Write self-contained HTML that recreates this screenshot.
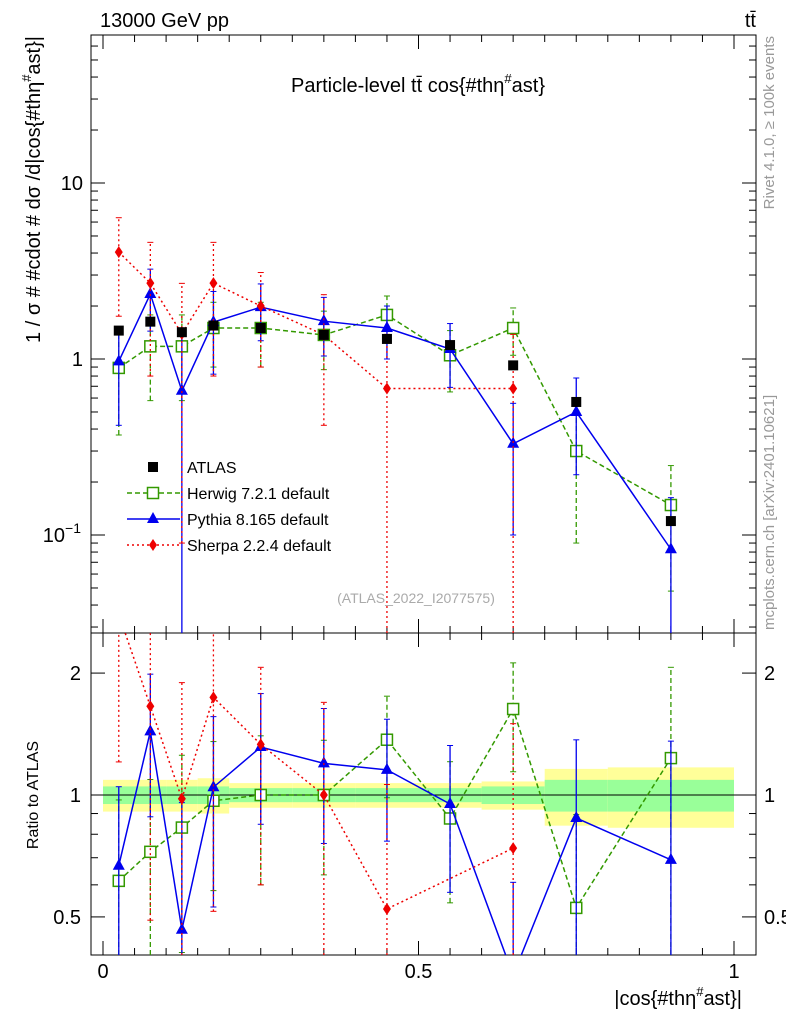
<!DOCTYPE html>
<html><head><meta charset="utf-8"><style>
body{margin:0;background:#fff;}
svg{font-family:"Liberation Sans",sans-serif;}
</style></head><body>
<svg id="c" width="786" height="1024" xmlns="http://www.w3.org/2000/svg"></svg>
<script>
const xCenters=[0.025,0.075,0.125,0.175,0.25,0.35,0.45,0.55,0.65,0.75,0.9];
const binEdges=[0,0.05,0.1,0.15,0.2,0.3,0.4,0.5,0.6,0.7,0.8,1.0];
const atlas=[1.45,1.63,1.42,1.55,1.5,1.37,1.3,1.2,0.92,0.57,0.12];
const herwig=[0.89,1.18,1.18,1.5,1.5,1.37,1.78,1.05,1.5,0.3,0.148];
const herwigErr=[0.52,0.6,0.6,0.6,0.6,0.5,0.5,0.4,0.45,0.21,0.1];
const pythia=[0.97,2.34,0.66,1.62,1.97,1.64,1.5,1.14,0.33,0.5,0.083];
const pythiaErr=[0.55,0.9,0.7,0.8,0.7,0.6,0.5,0.45,0.23,0.28,0.08];
const sherpa=[4.05,2.7,1.39,2.7,2.0,1.37,0.68,null,0.68,null,null];
const sherpaErr=[2.3,1.9,1.3,1.9,1.1,0.95,0.7,null,0.7,null,null];
const bandGreen=[0.05,0.05,0.05,0.05,0.04,0.04,0.04,0.04,0.05,0.09,0.09];
const bandYellow=[0.09,0.09,0.09,0.1,0.07,0.07,0.07,0.07,0.08,0.16,0.17];
const mainTicks=[[10,"10"],[1,"1"]];
const ratioTicks=[[2,"2"],[1,"1"],[0.5,"0.5"]];
const xTicks=[[0,"0"],[0.5,"0.5"],[1,"1"]];

const NS="http://www.w3.org/2000/svg";
const svg=document.getElementById('c');
function el(t,a,p){const e=document.createElementNS(NS,t);for(const k in a)e.setAttribute(k,a[k]);(p||svg).appendChild(e);return e;}
const L=91,R=756,T=35,M=633,B=955;
const X=v=>103+v*631;
const Y=v=>359-Math.log10(v)*176;
const YR=v=>795-Math.log10(v)*405;
const cl=(y,a,b)=>Math.max(a,Math.min(b,y));

const gb=el('g',{});
for(let i=0;i<xCenters.length;i++){
  const x0=X(binEdges[i]),x1=X(binEdges[i+1]);
  el('rect',{x:x0,y:YR(1+bandYellow[i]),width:x1-x0,height:YR(1-bandYellow[i])-YR(1+bandYellow[i]),fill:'#ffff99'},gb);
  el('rect',{x:x0,y:YR(1+bandGreen[i]),width:x1-x0,height:YR(1-bandGreen[i])-YR(1+bandGreen[i]),fill:'#99ff99'},gb);
}
el('line',{x1:L,x2:R,y1:YR(1),y2:YR(1),stroke:'#000','stroke-width':1});

const f1=el('rect',{x:L,y:T,width:R-L,height:M-T,fill:'none',stroke:'#000'});
const f2=el('rect',{x:L,y:M,width:R-L,height:B-M,fill:'none',stroke:'#000'});

for(let d=-2;d<=1;d++)for(let m=1;m<10;m++){const v=m*Math.pow(10,d);const y=Y(v);if(y<T||y>M)continue;const len=m==1?14:7;
 el('line',{x1:L,x2:L+len,y1:y,y2:y,stroke:'#000'});el('line',{x1:R,x2:R-len,y1:y,y2:y,stroke:'#000'});}
mainTicks.forEach(t=>{const e=el('text',{x:L-8,y:Y(t[0])+7,'text-anchor':'end','font-size':20});e.textContent=t[1];});
{const e=el('text',{x:L-10,y:Y(0.1)+7,'text-anchor':'end','font-size':20});e.innerHTML='10<tspan dy="-9" font-size="14">−1</tspan>';}
[0.5,0.6,0.7,0.8,0.9,1,2].forEach(v=>{const y=YR(v);const len=(v==1||v==2||v==0.5)?14:7;el('line',{x1:L,x2:L+len,y1:y,y2:y,stroke:'#000'});el('line',{x1:R,x2:R-len,y1:y,y2:y,stroke:'#000'});});
ratioTicks.forEach(t=>{const a=el('text',{x:L-10,y:YR(t[0])+7,'text-anchor':'end','font-size':20});a.textContent=t[1];
 const b=el('text',{x:R+8,y:YR(t[0])+7,'font-size':20});b.textContent=t[1];});
for(let i=0;i<=20;i++){const v=i*0.05;const x=X(v);const len=i%10==0?14:7;
 [[M,-1],[B,-1],[T,1],[M,1]].forEach(p=>el('line',{x1:x,x2:x,y1:p[0],y2:p[0]+p[1]*len,stroke:'#000'}));}
xTicks.forEach(t=>{const e=el('text',{x:X(t[0]),y:B+23,'text-anchor':'middle','font-size':20});e.textContent=t[1];});

function txt(x,y,s,name,attrs){const e=el('text',Object.assign({x:x,y:y},attrs||{}));e.innerHTML=s;return e;}
txt(100,27,'13000 GeV pp','energy-label',{'font-size':20});
txt(756,27,'tt̄','process-label',{'font-size':20,'text-anchor':'end'});
txt(418,92,'Particle-level tt̄ cos{#thη<tspan dy="-9" font-size="13">#</tspan><tspan dy="9">ast}</tspan>','plot-title',{'font-size':20,'text-anchor':'middle'});
txt(416,603,'(ATLAS_2022_I2077575)','analysis-id',{'font-size':14,'text-anchor':'middle',fill:'#aaaaaa'});
txt(742,1005,'|cos{#thη<tspan dy="-9" font-size="13">#</tspan><tspan dy="9">ast}|</tspan>','x-axis-title',{'font-size':20,'text-anchor':'end'});
txt(0,0,'1 / σ # #cdot # dσ /d|cos{#thη<tspan dy="-9" font-size="13">#</tspan><tspan dy="9">ast}|</tspan>','y-axis-title',{'font-size':20,'text-anchor':'end',transform:'translate(40,36) rotate(-90)'});
txt(0,0,'Ratio to ATLAS','ratio-y-axis-title',{'font-size':16,'text-anchor':'middle',transform:'translate(38,795) rotate(-90)'});
txt(0,0,'Rivet 4.1.0, ≥ 100k events','rivet-label',{'font-size':15,'text-anchor':'end',fill:'#999',transform:'translate(774,36) rotate(-90)'});
txt(0,0,'mcplots.cern.ch [arXiv:2401.10621]','mcplots-label',{'font-size':15,'text-anchor':'start',fill:'#999',transform:'translate(774,630) rotate(-90)'});

function marker(g,type,x,y,color){
 if(type=='sq')el('rect',{x:x-5,y:y-5,width:10,height:10,fill:'#000'},g);
 else if(type=='osq')el('rect',{x:x-5.5,y:y-5.5,width:11,height:11,fill:'#fff',stroke:color,'stroke-width':1.5},g);
 else if(type=='tri')el('path',{d:`M${x},${y-7}L${x+6},${y+4}L${x-6},${y+4}Z`,fill:color},g);
 else if(type=='dia')el('path',{d:`M${x},${y-6}L${x+4},${y}L${x},${y+6}L${x-4},${y}Z`,fill:color},g);
}
function series(name,vals,errs,color,dash,type,ymap,top,bot,ref){
 const g=el('g',{});
 const pts=[];
 vals.forEach((v,i)=>{if(v==null)return;
  const r=ref?ref[i]:1;const val=v/r;const x=X(xCenters[i]);const y=ymap(val);
  if(errs){const e=errs[i]/r;const lo=val-e;const y1=lo>0?cl(ymap(lo),top,bot):bot;const y2=cl(ymap(val+e),top,bot);
   el('line',{x1:x,x2:x,y1:y1,y2:y2,stroke:color,'stroke-width':1.3,'stroke-dasharray':dash||'none'},g);
   [y1,y2].forEach(yy=>{if(yy>top&&yy<bot)el('line',{x1:x-3,x2:x+3,y1:yy,y2:yy,stroke:color},g);});}
  pts.push([x,y]);});
 if(dash!==null){
  const cp=el('clipPath',{id:'cp'+name+top});el('rect',{x:L,y:top,width:R-L,height:bot-top},cp);
  el('polyline',{points:pts.map(p=>p.join(',')).join(' '),fill:'none',stroke:color,'stroke-width':1.5,'stroke-dasharray':dash||'none','clip-path':`url(#cp${name}${top})`},g);}
 pts.forEach(p=>{if(p[1]>top&&p[1]<bot)marker(g,type,p[0],p[1],color);});
}
const atlasErr=atlas.map(v=>v*0.05);
series('herwig-main',herwig,herwigErr,'#339900','5,3','osq',Y,T,M);
series('pythia-main',pythia,pythiaErr,'#0000ee','','tri',Y,T,M);
series('sherpa-main',sherpa,sherpaErr,'#ee0000','2,3','dia',Y,T,M);
series('atlas-main',atlas,atlasErr,'#000',null,'sq',Y,T,M);
series('herwig-ratio',herwig,herwigErr,'#339900','5,3','osq',YR,M,B,atlas);
series('pythia-ratio',pythia,pythiaErr,'#0000ee','','tri',YR,M,B,atlas);
series('sherpa-ratio',sherpa,sherpaErr,'#ee0000','2,3','dia',YR,M,B,atlas);

const lg=el('g',{});
const items=[['ATLAS','#000',null,'sq'],['Herwig 7.2.1 default','#339900','5,3','osq'],['Pythia 8.165 default','#0000ee','','tri'],['Sherpa 2.2.4 default','#ee0000','2,3','dia']];
items.forEach((it,i)=>{const y=467+i*26;const g=el('g',{},lg);
 if(it[2]!==null)el('line',{x1:127,x2:180,y1:y,y2:y,stroke:it[1],'stroke-width':1.5,'stroke-dasharray':it[2]||'none'},g);
 marker(g,it[3],153,y,it[1]);const t=el('text',{x:187,y:y+6,'font-size':16},g);t.textContent=it[0];});
</script>
</body></html>
